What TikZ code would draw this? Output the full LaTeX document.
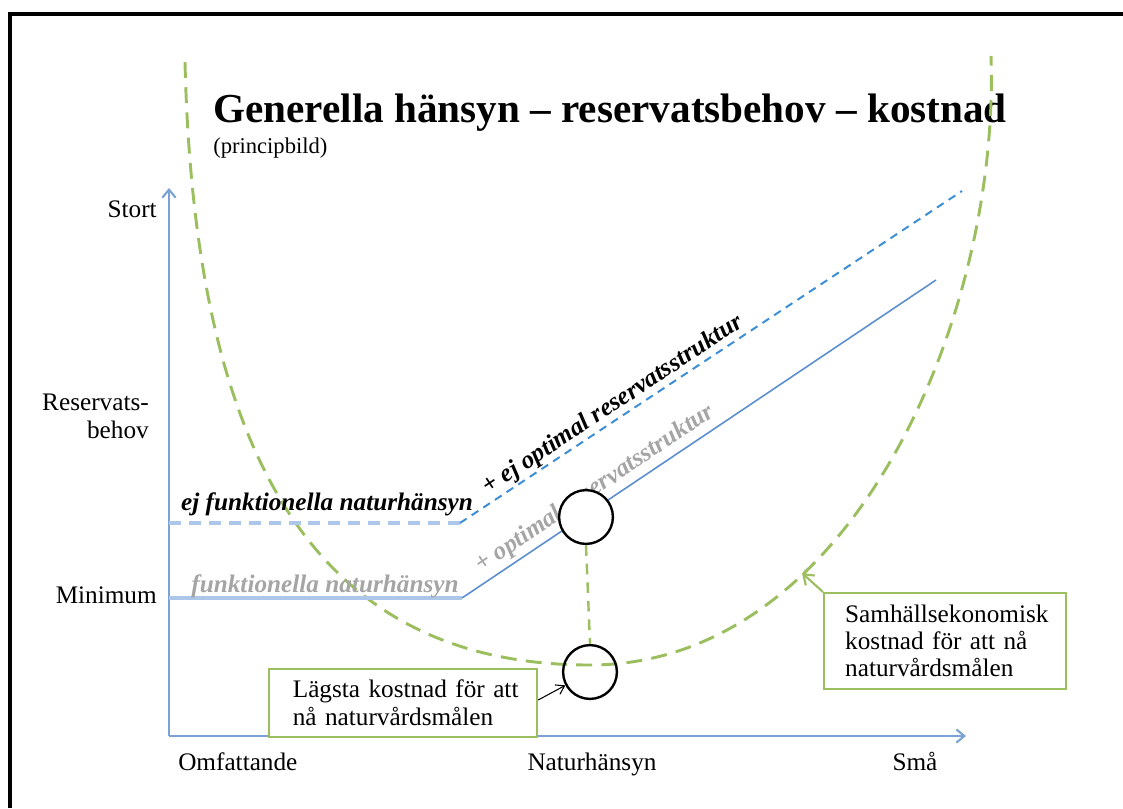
\documentclass[tikz,border=0pt]{standalone}
\usepackage{fontspec}
\setmainfont{Liberation Serif}
\usetikzlibrary{arrows.meta}
\definecolor{axisblue}{RGB}{122,162,212}
\definecolor{paleblue}{RGB}{172,199,234}
\definecolor{lineblue}{RGB}{92,142,208}
\definecolor{dashblue}{RGB}{62,142,214}
\definecolor{costgreen}{RGB}{155,190,95}
\definecolor{labelgray}{RGB}{165,165,165}

\begin{document}
\begin{tikzpicture}[x=0.02646cm, y=-0.02646cm,
    txt/.style={font=\fontsize{19}{21}\selectfont, inner sep=0pt},
    axisline/.style={draw=axisblue, line width=1.6pt, -{Straight Barb[length=6pt,width=10pt]}},
    paleline/.style={draw=paleblue, line width=2.4pt},
    slopeline/.style={draw=lineblue, line width=1.2pt},
    costline/.style={draw=costgreen, line width=2.2pt, dash pattern=on 12pt off 7pt},
    ring/.style={circle, draw=black, line width=1.8pt, minimum size=40.5pt, inner sep=0pt},
    infobox/.style={draw=costgreen, line width=1.4pt, fill=white, anchor=north west,
        align=left, inner sep=0pt, font=\fontsize{19}{20.5}\selectfont},
    linelabel/.style={font=\fontsize{19}{21}\selectfont\bfseries\itshape, inner sep=0pt}
]
\useasboundingbox (0,0) rectangle (1123,808);
% page frame
\draw[line width=3.4pt] (10,808) -- (10,14) -- (1123,14);

% title
\node[anchor=base west, inner sep=0pt, font=\fontsize{31}{36}\selectfont\bfseries] (title) at (213,122) {Generella hänsyn – reservatsbehov – kostnad};
\node[anchor=base west, inner sep=0pt, font=\fontsize{17}{20}\selectfont] (subtitle) at (213,153) {(principbild)};

% axes
\coordinate (origin) at (169,736);
\coordinate (ytop) at (169,188);
\coordinate (xend) at (966,736);
\draw[axisline] (origin) -- (ytop);
\draw[axisline] (origin) -- (xend);

\node[txt, anchor=base east] (stort) at (157,217) {Stort};
\node[txt, anchor=east, align=right] (behov) at (149,416) {Reservats-\\behov};
\node[txt, anchor=base east] (minimum) at (157,603) {Minimum};
\node[txt, anchor=base west] (omfattande) at (178,770) {Omfattande};
\node[txt, anchor=base] (naturhansyn) at (592,770) {Naturhänsyn};
\node[txt, anchor=base] (sma) at (915,770) {Små};

% cost curve
\coordinate (curvetopL) at (185,62);
\coordinate (curvelow) at (590,665);
\coordinate (curvetopR) at (991,56);
\coordinate (costpt) at (802,573);
\draw[costline] (curvetopL) .. controls (195,480) and (330,665) .. (curvelow)
    .. controls (850,665) and (1000,320) .. (curvetopR);

% reserve need lines
\coordinate (minL) at (169,598);
\coordinate (minK) at (462,598);
\coordinate (minE) at (936,280);
\coordinate (ejL) at (169,523);
\coordinate (ejK) at (460,523);
\coordinate (ejE) at (962,191);
\draw[paleline] (minL) -- (minK);
\draw[slopeline] (minK) -- (minE)
    node[pos=0.30, sloped, above=3pt, linelabel, text=labelgray] (optlabel) {+ optimal reservatsstruktur};
\draw[paleline, dash pattern=on 9pt off 6pt] (ejL) -- (ejK);
\draw[draw=dashblue, line width=1.5pt, dash pattern=on 6pt off 4.5pt] (ejK) -- (ejE)
    node[pos=0.32, sloped, above=1pt, linelabel] (ejoptlabel) {+ ej optimal reservatsstruktur};
\node[linelabel, anchor=base] (ejlabel) at (327,510) {ej funktionella naturhänsyn};
\node[linelabel, anchor=base, text=labelgray] (funklabel) at (325,592) {funktionella naturhänsyn};

% marked points
\node[ring, fill=white] (optimum) at (586,517) {};
\node[ring] (lowest) at (590,672) {};
\draw[costline, line width=1.8pt, dash pattern=on 8pt off 6pt] (optimum.south) -- (lowest.north);

% explanation boxes
\node[infobox, minimum width=202pt, minimum height=51pt, text width=184pt] (lowbox) at (268,668)
    {\hspace*{9pt}Lägsta kostnad för att\\\hspace*{9pt}nå naturvårdsmålen};
\node[infobox, minimum width=182pt, minimum height=72pt, text width=164pt] (costbox) at (823,592)
    {\hspace*{7pt}Samhällsekonomisk\\\hspace*{7pt}kostnad för att nå\\\hspace*{7pt}naturvårdsmålen};
\draw[line width=0.8pt, -{Straight Barb[length=6pt,width=8pt]}] (lowbox.east |- 0,700) -- (lowest);
\draw[costgreen, line width=1.6pt, -{Straight Barb[length=7pt,width=10pt]}] (costbox.north west) -- (costpt);
\end{tikzpicture}
\end{document}
